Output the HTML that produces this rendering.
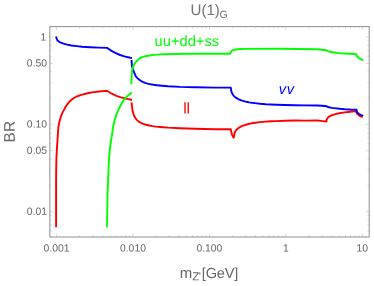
<!DOCTYPE html>
<html><head><meta charset="utf-8"><style>
html,body{margin:0;padding:0;background:#fff;}
body{width:374px;height:286px;overflow:hidden;}
svg{display:block;font-family:"Liberation Sans",sans-serif;}
</style></head><body>
<svg width="374" height="286" viewBox="0 0 374 286">
<rect x="0" y="0" width="374" height="286" fill="#fff"/>
<rect x="49.85" y="26.6" width="319.34999999999997" height="210.4" fill="none" stroke="#8e8e8e" stroke-width="1"/>
<g stroke="#b0b0b0" stroke-width="0.5"><line x1="56.55" y1="237.00" x2="56.55" y2="233.80"/><line x1="56.55" y1="26.60" x2="56.55" y2="29.80"/><line x1="79.56" y1="237.00" x2="79.56" y2="235.20"/><line x1="79.56" y1="26.60" x2="79.56" y2="28.40"/><line x1="93.03" y1="237.00" x2="93.03" y2="235.20"/><line x1="93.03" y1="26.60" x2="93.03" y2="28.40"/><line x1="102.58" y1="237.00" x2="102.58" y2="235.20"/><line x1="102.58" y1="26.60" x2="102.58" y2="28.40"/><line x1="109.99" y1="237.00" x2="109.99" y2="235.20"/><line x1="109.99" y1="26.60" x2="109.99" y2="28.40"/><line x1="116.04" y1="237.00" x2="116.04" y2="235.20"/><line x1="116.04" y1="26.60" x2="116.04" y2="28.40"/><line x1="121.16" y1="237.00" x2="121.16" y2="235.20"/><line x1="121.16" y1="26.60" x2="121.16" y2="28.40"/><line x1="125.59" y1="237.00" x2="125.59" y2="235.20"/><line x1="125.59" y1="26.60" x2="125.59" y2="28.40"/><line x1="129.50" y1="237.00" x2="129.50" y2="235.20"/><line x1="129.50" y1="26.60" x2="129.50" y2="28.40"/><line x1="133.00" y1="237.00" x2="133.00" y2="233.80"/><line x1="133.00" y1="26.60" x2="133.00" y2="29.80"/><line x1="156.01" y1="237.00" x2="156.01" y2="235.20"/><line x1="156.01" y1="26.60" x2="156.01" y2="28.40"/><line x1="169.48" y1="237.00" x2="169.48" y2="235.20"/><line x1="169.48" y1="26.60" x2="169.48" y2="28.40"/><line x1="179.03" y1="237.00" x2="179.03" y2="235.20"/><line x1="179.03" y1="26.60" x2="179.03" y2="28.40"/><line x1="186.44" y1="237.00" x2="186.44" y2="235.20"/><line x1="186.44" y1="26.60" x2="186.44" y2="28.40"/><line x1="192.49" y1="237.00" x2="192.49" y2="235.20"/><line x1="192.49" y1="26.60" x2="192.49" y2="28.40"/><line x1="197.61" y1="237.00" x2="197.61" y2="235.20"/><line x1="197.61" y1="26.60" x2="197.61" y2="28.40"/><line x1="202.04" y1="237.00" x2="202.04" y2="235.20"/><line x1="202.04" y1="26.60" x2="202.04" y2="28.40"/><line x1="205.95" y1="237.00" x2="205.95" y2="235.20"/><line x1="205.95" y1="26.60" x2="205.95" y2="28.40"/><line x1="209.45" y1="237.00" x2="209.45" y2="233.80"/><line x1="209.45" y1="26.60" x2="209.45" y2="29.80"/><line x1="232.46" y1="237.00" x2="232.46" y2="235.20"/><line x1="232.46" y1="26.60" x2="232.46" y2="28.40"/><line x1="245.93" y1="237.00" x2="245.93" y2="235.20"/><line x1="245.93" y1="26.60" x2="245.93" y2="28.40"/><line x1="255.48" y1="237.00" x2="255.48" y2="235.20"/><line x1="255.48" y1="26.60" x2="255.48" y2="28.40"/><line x1="262.89" y1="237.00" x2="262.89" y2="235.20"/><line x1="262.89" y1="26.60" x2="262.89" y2="28.40"/><line x1="268.94" y1="237.00" x2="268.94" y2="235.20"/><line x1="268.94" y1="26.60" x2="268.94" y2="28.40"/><line x1="274.06" y1="237.00" x2="274.06" y2="235.20"/><line x1="274.06" y1="26.60" x2="274.06" y2="28.40"/><line x1="278.49" y1="237.00" x2="278.49" y2="235.20"/><line x1="278.49" y1="26.60" x2="278.49" y2="28.40"/><line x1="282.40" y1="237.00" x2="282.40" y2="235.20"/><line x1="282.40" y1="26.60" x2="282.40" y2="28.40"/><line x1="285.90" y1="237.00" x2="285.90" y2="233.80"/><line x1="285.90" y1="26.60" x2="285.90" y2="29.80"/><line x1="308.91" y1="237.00" x2="308.91" y2="235.20"/><line x1="308.91" y1="26.60" x2="308.91" y2="28.40"/><line x1="322.38" y1="237.00" x2="322.38" y2="235.20"/><line x1="322.38" y1="26.60" x2="322.38" y2="28.40"/><line x1="331.93" y1="237.00" x2="331.93" y2="235.20"/><line x1="331.93" y1="26.60" x2="331.93" y2="28.40"/><line x1="339.34" y1="237.00" x2="339.34" y2="235.20"/><line x1="339.34" y1="26.60" x2="339.34" y2="28.40"/><line x1="345.39" y1="237.00" x2="345.39" y2="235.20"/><line x1="345.39" y1="26.60" x2="345.39" y2="28.40"/><line x1="350.51" y1="237.00" x2="350.51" y2="235.20"/><line x1="350.51" y1="26.60" x2="350.51" y2="28.40"/><line x1="354.94" y1="237.00" x2="354.94" y2="235.20"/><line x1="354.94" y1="26.60" x2="354.94" y2="28.40"/><line x1="358.85" y1="237.00" x2="358.85" y2="235.20"/><line x1="358.85" y1="26.60" x2="358.85" y2="28.40"/><line x1="362.35" y1="237.00" x2="362.35" y2="233.80"/><line x1="362.35" y1="26.60" x2="362.35" y2="29.80"/><line x1="49.85" y1="230.96" x2="51.65" y2="230.96"/><line x1="369.20" y1="230.96" x2="367.40" y2="230.96"/><line x1="49.85" y1="225.12" x2="51.65" y2="225.12"/><line x1="369.20" y1="225.12" x2="367.40" y2="225.12"/><line x1="49.85" y1="220.06" x2="51.65" y2="220.06"/><line x1="369.20" y1="220.06" x2="367.40" y2="220.06"/><line x1="49.85" y1="215.59" x2="51.65" y2="215.59"/><line x1="369.20" y1="215.59" x2="367.40" y2="215.59"/><line x1="49.85" y1="211.60" x2="53.05" y2="211.60"/><line x1="369.20" y1="211.60" x2="366.00" y2="211.60"/><line x1="49.85" y1="185.34" x2="51.65" y2="185.34"/><line x1="369.20" y1="185.34" x2="367.40" y2="185.34"/><line x1="49.85" y1="169.97" x2="51.65" y2="169.97"/><line x1="369.20" y1="169.97" x2="367.40" y2="169.97"/><line x1="49.85" y1="159.07" x2="51.65" y2="159.07"/><line x1="369.20" y1="159.07" x2="367.40" y2="159.07"/><line x1="49.85" y1="150.61" x2="53.05" y2="150.61"/><line x1="369.20" y1="150.61" x2="366.00" y2="150.61"/><line x1="49.85" y1="143.71" x2="51.65" y2="143.71"/><line x1="369.20" y1="143.71" x2="367.40" y2="143.71"/><line x1="49.85" y1="137.87" x2="51.65" y2="137.87"/><line x1="369.20" y1="137.87" x2="367.40" y2="137.87"/><line x1="49.85" y1="132.81" x2="51.65" y2="132.81"/><line x1="369.20" y1="132.81" x2="367.40" y2="132.81"/><line x1="49.85" y1="128.34" x2="51.65" y2="128.34"/><line x1="369.20" y1="128.34" x2="367.40" y2="128.34"/><line x1="49.85" y1="124.35" x2="53.05" y2="124.35"/><line x1="369.20" y1="124.35" x2="366.00" y2="124.35"/><line x1="49.85" y1="98.09" x2="51.65" y2="98.09"/><line x1="369.20" y1="98.09" x2="367.40" y2="98.09"/><line x1="49.85" y1="82.72" x2="51.65" y2="82.72"/><line x1="369.20" y1="82.72" x2="367.40" y2="82.72"/><line x1="49.85" y1="71.82" x2="51.65" y2="71.82"/><line x1="369.20" y1="71.82" x2="367.40" y2="71.82"/><line x1="49.85" y1="63.36" x2="53.05" y2="63.36"/><line x1="369.20" y1="63.36" x2="366.00" y2="63.36"/><line x1="49.85" y1="56.46" x2="51.65" y2="56.46"/><line x1="369.20" y1="56.46" x2="367.40" y2="56.46"/><line x1="49.85" y1="50.62" x2="51.65" y2="50.62"/><line x1="369.20" y1="50.62" x2="367.40" y2="50.62"/><line x1="49.85" y1="45.56" x2="51.65" y2="45.56"/><line x1="369.20" y1="45.56" x2="367.40" y2="45.56"/><line x1="49.85" y1="41.09" x2="51.65" y2="41.09"/><line x1="369.20" y1="41.09" x2="367.40" y2="41.09"/><line x1="49.85" y1="37.10" x2="53.05" y2="37.10"/><line x1="369.20" y1="37.10" x2="366.00" y2="37.10"/></g>
<polyline fill="none" stroke="#ff0000" stroke-width="1.9" stroke-linejoin="round" points="56.1,227.3 56.1,200.0 56.1,183.0 56.2,169.4 56.4,158.4 57.0,147.4 57.5,140.3 58.0,131.7 58.5,126.3 59.6,121.0 61.2,115.6 62.4,112.9 63.9,110.1 65.4,107.3 67.1,104.5 69.1,102.1 71.4,99.8 73.9,98.0 76.7,96.5 79.8,95.3 83.2,94.3 86.5,93.5 89.9,92.8 94.0,92.1 98.9,91.5 103.0,91.1 106.9,90.8 111.7,93.7 117.1,96.1 121.0,97.3 124.9,98.3 128.5,99.2 132.0,100.0"/>
<polyline fill="none" stroke="#ff0000" stroke-width="1.9" stroke-linejoin="round" points="131.6,102.3 131.8,104.8 132.1,106.9 132.4,109.6 132.8,111.8 133.5,114.2 134.4,116.3 135.6,118.3 137.1,120.1 138.8,121.6 140.8,122.8 143.3,123.9 146.2,124.8 149.2,125.5 152.6,126.1 156.0,126.6 160.1,127.0 167.9,127.6 180.0,128.2 195.0,128.8 215.0,129.2 230.8,129.2 231.0,130.6 231.3,132.1 231.9,134.3 232.8,136.5 233.7,137.7 234.1,135.5 234.5,133.2 235.3,131.4 236.4,129.9 237.9,128.5 239.6,127.3 241.6,126.2 243.9,125.3 246.5,124.5 249.2,123.9 252.0,123.3 255.0,122.8 260.0,122.1 265.7,121.6 271.0,121.3 276.4,121.1 285.0,120.8 294.9,120.5 305.0,120.6 317.1,120.5 321.0,120.9 326.3,121.6 326.5,120.5 326.8,119.4 327.5,118.2 328.3,117.2 329.5,116.3 331.0,115.6 333.0,114.8 335.3,114.1 339.3,113.2 344.7,112.4 350.0,111.7 356.0,111.1 356.3,112.0 356.7,112.9 357.5,114.1 358.6,115.1 360.2,116.1 362.6,117.0"/>
<polyline fill="none" stroke="#0000ff" stroke-width="1.9" stroke-linejoin="round" points="56.2,36.3 56.4,38.0 57.5,40.6 59.6,42.1 62.8,43.4 67.1,44.6 71.4,45.5 76.7,46.1 82.1,46.8 89.9,47.2 98.7,47.6 107.0,47.9 111.5,50.9 115.8,53.2 120.1,55.0 124.4,56.4 127.9,57.2 132.0,58.1"/>
<polyline fill="none" stroke="#0000ff" stroke-width="1.9" stroke-linejoin="round" points="131.6,60.0 131.8,64.6 132.1,66.5 132.6,68.3 133.2,70.2 133.9,71.5 134.6,73.7 135.5,75.7 137.1,77.9 138.8,79.4 140.8,80.8 142.8,81.9 145.1,82.8 147.6,83.6 150.5,84.3 153.5,84.8 156.9,85.2 162.0,85.7 167.9,86.2 180.0,86.9 195.0,87.3 215.0,87.6 230.8,87.6 231.0,89.1 231.3,91.1 231.8,92.7 232.6,94.3 233.8,95.9 235.3,97.2 237.0,98.4 239.1,99.5 241.3,100.4 243.9,101.1 246.4,101.8 249.2,102.4 252.0,102.8 255.0,103.1 260.0,103.7 265.7,104.2 271.0,104.5 276.4,104.7 285.0,105.0 294.9,105.2 305.0,105.4 317.1,105.5 322.0,105.8 326.7,106.3 327.8,107.0 330.0,107.5 332.1,107.9 334.0,108.1 339.9,108.8 344.7,109.2 350.0,109.5 356.6,109.7 356.8,110.9 357.0,111.9 357.9,113.1 359.1,114.0 360.8,114.9 363.2,115.8"/>
<polyline fill="none" stroke="#00ff00" stroke-width="1.9" stroke-linejoin="round" points="107.0,227.3 107.2,214.8 107.5,194.9 108.3,175.0 108.7,164.6 109.3,155.2 110.3,145.7 111.4,137.9 112.0,135.0 113.0,127.5 114.4,121.0 116.0,115.7 118.2,110.3 120.8,105.0 123.8,99.8 126.0,97.4 128.0,95.5 130.0,93.9 131.9,92.6"/>
<polyline fill="none" stroke="#00ff00" stroke-width="1.9" stroke-linejoin="round" points="131.4,84.3 131.5,80.0 131.7,75.5 132.0,71.2 132.5,68.9 133.1,67.0 133.8,65.2 134.7,63.7 135.7,62.2 136.8,61.0 137.9,59.8 139.4,58.6 141.0,57.6 143.0,56.9 145.3,56.2 148.0,55.7 150.7,55.3 154.0,54.9 157.1,54.6 161.0,54.4 164.9,54.2 175.0,54.0 188.0,53.8 205.0,53.7 230.3,53.7 230.8,52.5 231.3,51.4 232.2,50.5 233.3,50.0 235.5,49.5 238.0,49.2 241.0,49.0 244.9,48.9 280.0,48.8 316.8,49.2 321.0,49.7 326.4,50.3 328.0,51.2 330.0,51.8 332.8,52.3 336.0,52.7 339.2,53.1 344.7,53.5 350.0,53.8 356.5,54.2 356.7,55.2 357.0,56.2 357.9,57.3 359.1,58.3 360.8,59.2 363.3,60.3"/>
<defs><mask id="m" maskUnits="userSpaceOnUse" x="0" y="0" width="374" height="286"><rect width="374" height="286" fill="#fff"/></mask></defs>
<g mask="url(#m)">
<text transform="translate(46.40,40.55) rotate(0.04)" text-anchor="end" font-size="10.4" fill="#666">1</text>
<text transform="translate(47.10,66.61) rotate(0.04)" text-anchor="end" font-size="10.4" fill="#666">0.50</text>
<text transform="translate(47.10,127.60) rotate(0.04)" text-anchor="end" font-size="10.4" fill="#666">0.10</text>
<text transform="translate(47.10,153.86) rotate(0.04)" text-anchor="end" font-size="10.4" fill="#666">0.05</text>
<text transform="translate(47.10,214.85) rotate(0.04)" text-anchor="end" font-size="10.4" fill="#666">0.01</text>
<text transform="translate(56.50,251.45) rotate(0.04)" text-anchor="middle" font-size="10.4" fill="#666">0.001</text>
<text transform="translate(132.95,251.45) rotate(0.04)" text-anchor="middle" font-size="10.4" fill="#666">0.010</text>
<text transform="translate(209.40,251.45) rotate(0.04)" text-anchor="middle" font-size="10.4" fill="#666">0.100</text>
<text transform="translate(285.85,251.45) rotate(0.04)" text-anchor="middle" font-size="10.4" fill="#666">1</text>
<text transform="translate(362.30,251.45) rotate(0.04)" text-anchor="middle" font-size="10.4" fill="#666">10</text>
<text transform="translate(190.50,15.00) rotate(0.04)" text-anchor="start" font-size="15.1" fill="#737373">U(1)<tspan font-size="10.6" dy="2.9" dx="-0.3">G</tspan></text>
<text transform="translate(154.60,45.90) rotate(0.04)" text-anchor="start" font-size="14.7" fill="#00ff00">uu+dd+ss</text>
<text transform="translate(183.35,113.50) rotate(0.04)" text-anchor="start" font-size="15.7" fill="#ff0000" letter-spacing="-0.45">ll</text>
<text transform="translate(278.80,93.90) rotate(0.04)" text-anchor="start" font-size="14.6" fill="#0000ff" font-style="italic" letter-spacing="0.6">vv</text>
<text transform="translate(14.70,142.40) rotate(-90.05)" text-anchor="start" font-size="15.4" fill="#666" letter-spacing="0.25">BR</text>
<text transform="translate(179.80,278.00) rotate(0.04)" text-anchor="start" font-size="15.0" fill="#666">m<tspan font-size="11.5" dy="2.2" dx="-0.1">Z</tspan><tspan font-size="11.5" dx="-0.6">'</tspan><tspan font-size="14.6" dy="-2.2" dx="1.0" letter-spacing="-0.2">[GeV]</tspan></text>
</g>
</svg>
</body></html>
